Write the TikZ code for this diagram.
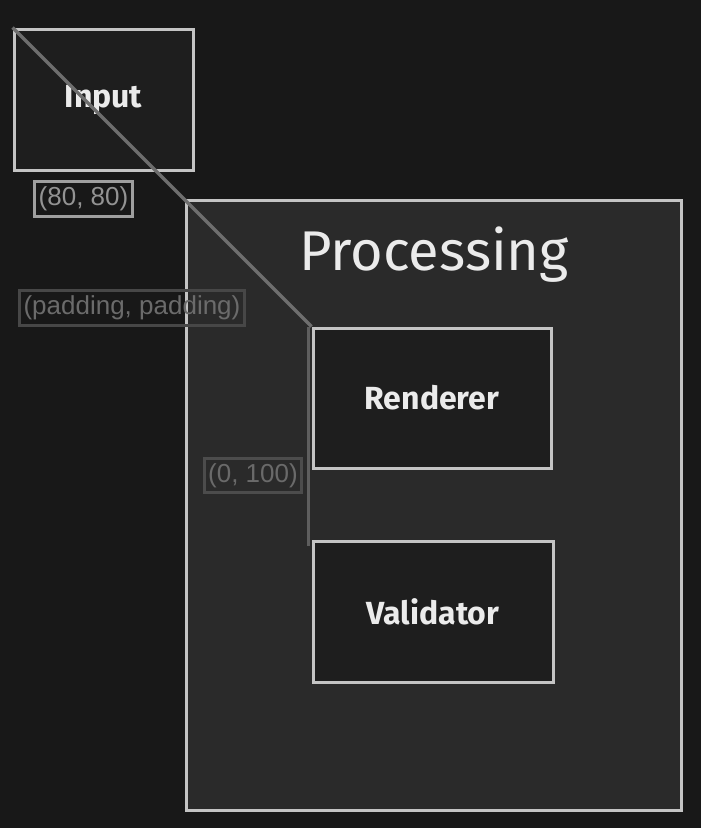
\documentclass[tikz,border=0pt]{standalone}
\usepackage{fontspec}
\setmainfont{Fira Sans}
\newfontfamily\tagfont{Liberation Sans}
\usetikzlibrary{positioning}

\definecolor{bgdark}{HTML}{181818}
\definecolor{procfill}{HTML}{2A2A2A}
\definecolor{boxfill}{HTML}{1E1E1E}
\definecolor{boxline}{HTML}{C4C4C4}
\definecolor{boxtext}{HTML}{EBEBEB}
\definecolor{wire}{HTML}{6E6E6E}

\tikzset{
  compbox/.style={draw=boxline, fill=boxfill, line width=3pt, text=boxtext,
    font=\fontsize{32}{34}\selectfont\bfseries, inner sep=0pt},
  coordtag/.style={line width=3pt, inner xsep=4pt, inner ysep=5pt, font=\tagfont\fontsize{26}{28}\selectfont}
}

\begin{document}
\begin{tikzpicture}[x=1pt, y=-1pt]

\def\W{701}
\def\H{828}

\fill[bgdark] (0,0) rectangle (\W,\H);
\useasboundingbox (0,0) rectangle (\W,\H);

% container
\node[draw=boxline, fill=procfill, line width=3pt, minimum width=495pt,
  minimum height=610pt, inner sep=0pt] (proc) at (433.5,505) {};
\node[text=boxtext, font=\fontsize{56}{58}\selectfont] (proctitle) at (434,255) {Processing};

\node[compbox, minimum width=179pt, minimum height=141pt] (input) at (103.5,99.5) {Input};
\node[compbox, minimum width=238pt, minimum height=140pt] (renderer) at (432,398) {Renderer};
\node[compbox, minimum width=240pt, minimum height=141pt] (validator) at (433,611.5) {Validator};

% offsets
\draw[wire, line width=3.5pt] (input.north west) -- (renderer.north west);
\draw[wire!85!black, line width=3.5pt] ([xshift=-3pt]renderer.north west) -- ([xshift=-3pt, yshift=-6pt]validator.north west);

\node[coordtag, draw=gray!75, text=gray!85] (tagin) at (83.5,199) {(80, 80)};
\node[coordtag, draw=gray!45!bgdark, text=gray!80!bgdark] (tagpad) at (132,308) {(padding, padding)};
\node[coordtag, draw=gray!40!procfill, text=gray!75!procfill] (tagren) at (253,475.5) {(0, 100)};

\end{tikzpicture}
\end{document}
